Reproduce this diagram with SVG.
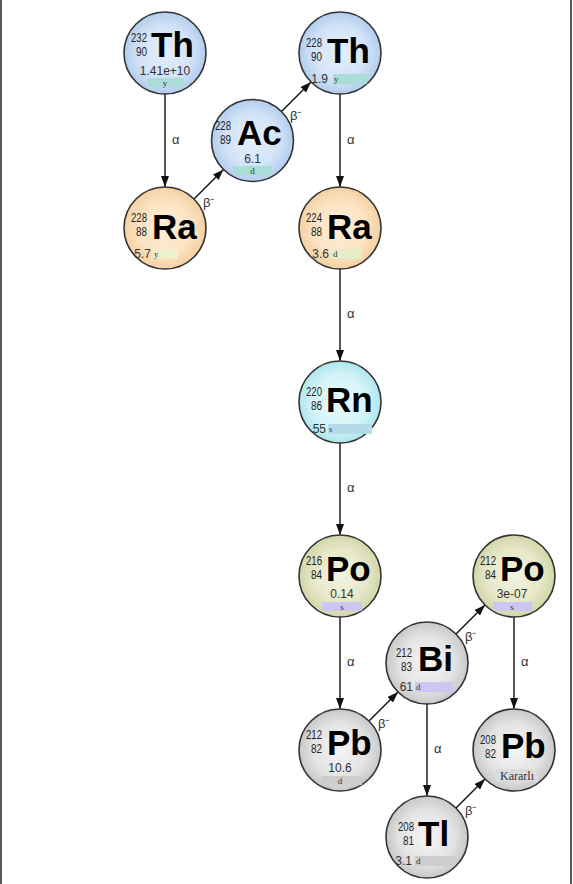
<svg xmlns="http://www.w3.org/2000/svg" width="573" height="884" viewBox="0 0 573 884">
<defs>
<radialGradient id="gBlue" cx="50%" cy="50%" r="50%"><stop offset="0" stop-color="#e4effb"/><stop offset="0.65" stop-color="#d3e3f7"/><stop offset="1" stop-color="#b2cdee"/></radialGradient>
<radialGradient id="gPeach" cx="50%" cy="50%" r="50%"><stop offset="0" stop-color="#fdeed8"/><stop offset="0.65" stop-color="#fbe3c2"/><stop offset="1" stop-color="#f5d0a2"/></radialGradient>
<radialGradient id="gCyan" cx="50%" cy="50%" r="50%"><stop offset="0" stop-color="#e8fbfd"/><stop offset="0.65" stop-color="#d4f4f8"/><stop offset="1" stop-color="#afe6ee"/></radialGradient>
<radialGradient id="gOlive" cx="50%" cy="50%" r="50%"><stop offset="0" stop-color="#f3f4e2"/><stop offset="0.65" stop-color="#e6e8c8"/><stop offset="1" stop-color="#d2d6a8"/></radialGradient>
<radialGradient id="gGray" cx="50%" cy="50%" r="50%"><stop offset="0" stop-color="#f4f4f4"/><stop offset="0.65" stop-color="#e4e4e4"/><stop offset="1" stop-color="#c8c8c8"/></radialGradient>
<marker id="ah" viewBox="0 0 11 8" refX="11" refY="4" markerWidth="11" markerHeight="8" markerUnits="userSpaceOnUse" orient="auto"><path d="M0,0 L11,4 L0,8 z" fill="#111"/></marker>
</defs>
<style>
.c{stroke:#333;stroke-width:1.6}
.sym{font-family:"Liberation Sans",Arial,sans-serif;font-weight:bold;font-size:35px;fill:#000}
.num{font-family:"Liberation Sans",Arial,sans-serif;font-size:13px;fill:#222;text-anchor:end}
.hl{font-family:"Liberation Sans",Arial,sans-serif;font-size:12px;fill:#333}
.u{font-family:"Liberation Serif","Times New Roman",serif;font-size:9px;fill:#333}
.lbl{font-family:"Liberation Sans",Arial,sans-serif;font-size:13px;fill:#333}
.ar{stroke:#111;stroke-width:1.4;fill:none;marker-end:url(#ah)}
.bT{fill:#a9ddd6}.bY{fill:#eef0cc}.bG{fill:#e6ecc9}.bC{fill:#b6dbe8}.bL{fill:#cbc6f2}.bK{fill:#cdcdcd}
</style>
<rect width="573" height="884" fill="#fff"/>
<line x1="1" y1="0" x2="1" y2="884" stroke="#222" stroke-width="1.5"/>
<line x1="571" y1="0" x2="571" y2="884" stroke="#222" stroke-width="1.5"/>

<g id="connectors">
<line class="ar" x1="165" y1="94" x2="165" y2="187"/><text class="lbl" x="172" y="144">α</text>
<line class="ar" x1="340" y1="94" x2="340" y2="187"/><text class="lbl" x="347" y="144">α</text>
<line class="ar" x1="340" y1="269" x2="340" y2="361"/><text class="lbl" x="347" y="318">α</text>
<line class="ar" x1="340" y1="443" x2="340" y2="535"/><text class="lbl" x="347" y="492">α</text>
<line class="ar" x1="340" y1="617" x2="340" y2="709"/><text class="lbl" x="347" y="666">α</text>
<line class="ar" x1="514" y1="617" x2="514" y2="709"/><text class="lbl" x="521" y="666">α</text>
<line class="ar" x1="427" y1="704" x2="427" y2="796"/><text class="lbl" x="434" y="753">α</text>
<line class="ar" x1="194" y1="199" x2="223.5" y2="169.5"/><text class="lbl" x="203" y="207">β⁻</text>
<line class="ar" x1="281.5" y1="111.5" x2="311" y2="82"/><text class="lbl" x="290" y="120">β⁻</text>
<line class="ar" x1="369" y1="721" x2="398" y2="692"/><text class="lbl" x="378" y="728">β⁻</text>
<line class="ar" x1="456" y1="634" x2="485" y2="605"/><text class="lbl" x="465" y="641">β⁻</text>
<line class="ar" x1="456" y1="808" x2="485" y2="779"/><text class="lbl" x="465" y="815">β⁻</text>
</g>

<g id="th232">
<circle class="c" cx="165" cy="53" r="41" fill="url(#gBlue)"/>
<text class="num" x="147" y="42" textLength="16" lengthAdjust="spacingAndGlyphs">232</text>
<text class="num" x="147" y="56" textLength="11" lengthAdjust="spacingAndGlyphs">90</text>
<text class="sym" x="151" y="57">Th</text>
<text class="hl" x="165" y="75" text-anchor="middle">1.41e+10</text>
<rect class="bT" x="148" y="78" width="35" height="9"/>
<text class="u" x="165" y="86" text-anchor="middle">y</text>
</g>

<g id="ac228">
<circle class="c" cx="252.5" cy="140.5" r="41" fill="url(#gBlue)"/>
<text class="num" x="231" y="130" textLength="16" lengthAdjust="spacingAndGlyphs">228</text>
<text class="num" x="231" y="144" textLength="11" lengthAdjust="spacingAndGlyphs">89</text>
<text class="sym" x="237" y="145">Ac</text>
<text class="hl" x="252.5" y="163" text-anchor="middle">6.1</text>
<rect class="bT" x="233" y="166" width="39" height="9"/>
<text class="u" x="252.5" y="174" text-anchor="middle">d</text>
</g>

<g id="th228">
<circle class="c" cx="340" cy="53" r="41" fill="url(#gBlue)"/>
<text class="num" x="322" y="47" textLength="16" lengthAdjust="spacingAndGlyphs">228</text>
<text class="num" x="322" y="61" textLength="11" lengthAdjust="spacingAndGlyphs">90</text>
<text class="sym" x="327" y="63">Th</text>
<text class="hl" x="328" y="83" text-anchor="end">1.9</text>
<rect class="bT" x="333" y="74" width="34" height="10"/>
<text class="u" x="334" y="82">y</text>
</g>

<g id="ra228">
<circle class="c" cx="165" cy="228" r="41" fill="url(#gPeach)"/>
<text class="num" x="147" y="222" textLength="16" lengthAdjust="spacingAndGlyphs">228</text>
<text class="num" x="147" y="236" textLength="11" lengthAdjust="spacingAndGlyphs">88</text>
<text class="sym" x="152" y="239">Ra</text>
<rect class="bY" x="153" y="249" width="25" height="10"/>
<text class="hl" x="151" y="258" text-anchor="end">5.7</text>
<text class="u" x="154" y="257">y</text>
</g>

<g id="ra224">
<circle class="c" cx="340" cy="228" r="41" fill="url(#gPeach)"/>
<text class="num" x="322" y="222" textLength="16" lengthAdjust="spacingAndGlyphs">224</text>
<text class="num" x="322" y="236" textLength="11" lengthAdjust="spacingAndGlyphs">88</text>
<text class="sym" x="327" y="239">Ra</text>
<rect class="bG" x="332" y="249" width="30" height="10"/>
<text class="hl" x="329" y="258" text-anchor="end">3.6</text>
<text class="u" x="333" y="257">d</text>
</g>

<g id="rn220">
<circle class="c" cx="340" cy="402" r="41" fill="url(#gCyan)"/>
<text class="num" x="322" y="396" textLength="16" lengthAdjust="spacingAndGlyphs">220</text>
<text class="num" x="322" y="410" textLength="11" lengthAdjust="spacingAndGlyphs">86</text>
<text class="sym" x="326" y="412">Rn</text>
<rect class="bC" x="328" y="424" width="44" height="10"/>
<text class="hl" x="326" y="433" text-anchor="end">55</text>
<text class="u" x="329" y="432">s</text>
</g>

<g id="po216">
<circle class="c" cx="340" cy="576" r="41" fill="url(#gOlive)"/>
<text class="num" x="322" y="565" textLength="16" lengthAdjust="spacingAndGlyphs">216</text>
<text class="num" x="322" y="579" textLength="11" lengthAdjust="spacingAndGlyphs">84</text>
<text class="sym" x="326" y="581">Po</text>
<text class="hl" x="342" y="598" text-anchor="middle">0.14</text>
<rect class="bL" x="322" y="602" width="40" height="9"/>
<text class="u" x="342" y="610" text-anchor="middle">s</text>
</g>

<g id="po212">
<circle class="c" cx="514" cy="576" r="41" fill="url(#gOlive)"/>
<text class="num" x="496" y="565" textLength="16" lengthAdjust="spacingAndGlyphs">212</text>
<text class="num" x="496" y="579" textLength="11" lengthAdjust="spacingAndGlyphs">84</text>
<text class="sym" x="500" y="581">Po</text>
<text class="hl" x="512" y="598" text-anchor="middle">3e-07</text>
<rect class="bL" x="493" y="602" width="39" height="9"/>
<text class="u" x="512" y="610" text-anchor="middle">s</text>
</g>

<g id="bi212">
<circle class="c" cx="427" cy="663" r="41" fill="url(#gGray)"/>
<text class="num" x="412" y="657" textLength="16" lengthAdjust="spacingAndGlyphs">212</text>
<text class="num" x="412" y="671" textLength="11" lengthAdjust="spacingAndGlyphs">83</text>
<text class="sym" x="418" y="671">Bi</text>
<rect class="bL" x="415" y="682" width="38" height="10"/>
<text class="hl" x="413" y="691" text-anchor="end">61</text>
<text class="u" x="416" y="690">d</text>
</g>

<g id="pb212">
<circle class="c" cx="340" cy="750" r="41" fill="url(#gGray)"/>
<text class="num" x="322" y="739" textLength="16" lengthAdjust="spacingAndGlyphs">212</text>
<text class="num" x="322" y="753" textLength="11" lengthAdjust="spacingAndGlyphs">82</text>
<text class="sym" x="327" y="755">Pb</text>
<text class="hl" x="340" y="772" text-anchor="middle">10.6</text>
<rect class="bK" x="322" y="776" width="40" height="9"/>
<text class="u" x="340" y="784" text-anchor="middle">d</text>
</g>

<g id="pb208">
<circle class="c" cx="514" cy="750" r="41" fill="url(#gGray)"/>
<text class="num" x="496" y="744" textLength="16" lengthAdjust="spacingAndGlyphs">208</text>
<text class="num" x="496" y="758" textLength="11" lengthAdjust="spacingAndGlyphs">82</text>
<text class="sym" x="501" y="758">Pb</text>
<rect x="496" y="769" width="42" height="13" fill="#dcdcdc"/>
<text x="517" y="780" text-anchor="middle" style="font-family:'Liberation Serif','Times New Roman',serif;font-size:12px;fill:#333">Kararlı</text>
</g>

<g id="tl208">
<circle class="c" cx="427" cy="837" r="41" fill="url(#gGray)"/>
<text class="num" x="414" y="831" textLength="16" lengthAdjust="spacingAndGlyphs">208</text>
<text class="num" x="414" y="845" textLength="11" lengthAdjust="spacingAndGlyphs">81</text>
<text class="sym" x="418" y="846">Tl</text>
<rect class="bK" x="415" y="856" width="40" height="10"/>
<text class="hl" x="412" y="865" text-anchor="end">3.1</text>
<text class="u" x="416" y="864">d</text>
</g>
</svg>
